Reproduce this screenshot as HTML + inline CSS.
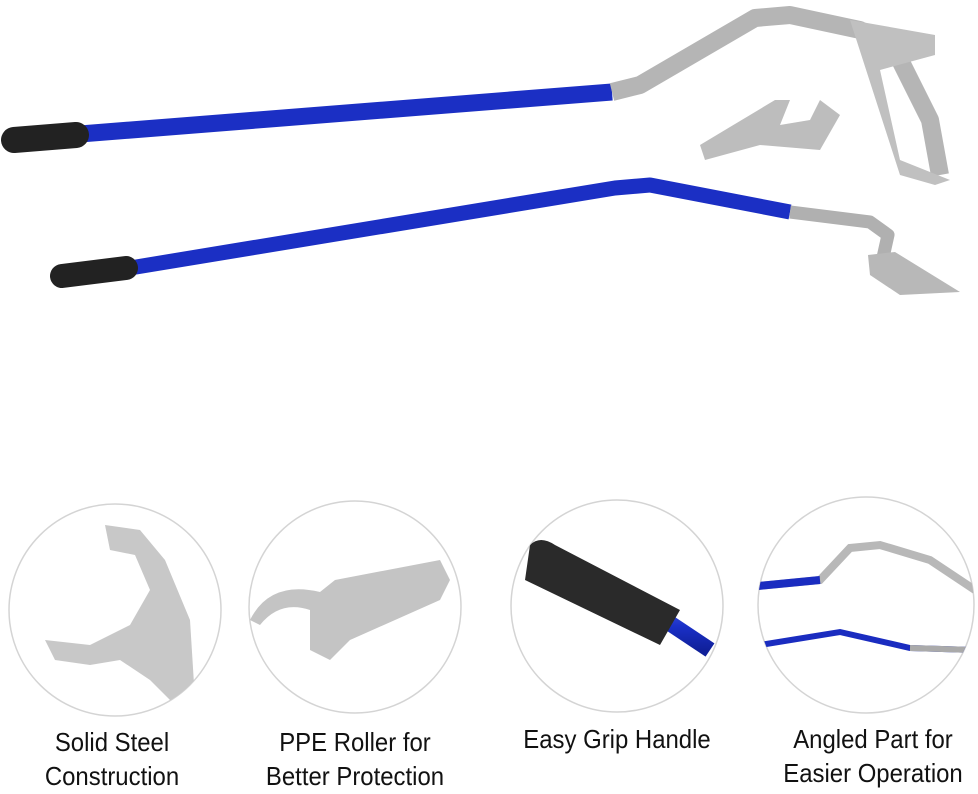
<!DOCTYPE html>
<html><head><style>
body{margin:0;width:978px;height:794px;background:#fff;overflow:hidden;position:relative;font-family:"Liberation Sans",sans-serif}
.t{position:absolute;text-align:center;font-size:26px;color:#111;line-height:34px;transform:scaleX(0.92)}
</style></head><body>
<svg width="978" height="794" style="position:absolute;left:0;top:0">
<defs>
<linearGradient id="b" x1="0" y1="0" x2="0" y2="1"><stop offset="0" stop-color="#3a4fd8"/><stop offset=".4" stop-color="#1a30c8"/><stop offset="1" stop-color="#10209a"/></linearGradient>
<clipPath id="c1"><circle cx="115" cy="610" r="106"/></clipPath>
<clipPath id="c2"><circle cx="355" cy="607" r="106"/></clipPath>
<clipPath id="c3"><circle cx="617" cy="606" r="106"/></clipPath>
<clipPath id="c4"><circle cx="866" cy="605" r="108"/></clipPath>
</defs>
<line x1="80" y1="134" x2="612" y2="92" stroke="#1b2fc4" stroke-width="17"/>
<line x1="14" y1="140" x2="76" y2="135" stroke="#222" stroke-width="26" stroke-linecap="round"/>
<polyline points="612,92 640,85 755,18 790,15 860,30 900,60 930,120 940,175" fill="none" stroke="#b5b5b5" stroke-width="18" stroke-linejoin="round"/>
<path d="M850,20 L935,35 L935,55 L880,70 L900,160 L950,180 L935,185 L900,175 Z" fill="#c0c0c0"/>
<path d="M700,145 L775,100 L790,100 L780,125 L810,120 L820,100 L840,115 L820,150 L760,145 L705,160 Z" fill="#bdbdbd"/>
<polyline points="130,268 615,188 650,185 790,212" fill="none" stroke="#1b2fc4" stroke-width="15" stroke-linejoin="round"/>
<line x1="62" y1="276" x2="126" y2="268" stroke="#222" stroke-width="24" stroke-linecap="round"/>
<polyline points="790,212 870,222 888,235 882,262" fill="none" stroke="#b0b0b0" stroke-width="13" stroke-linejoin="round"/>
<path d="M868,255 L895,252 L960,292 L900,295 L870,275 Z" fill="#b8b8b8"/>
<g fill="#fff" stroke="#d4d4d4" stroke-width="1.5">
<circle cx="115" cy="610" r="106"/><circle cx="355" cy="607" r="106"/><circle cx="617" cy="606" r="106"/><circle cx="866" cy="605" r="108"/>
</g>
<g clip-path="url(#c1)"><path d="M105,525 L140,530 L165,560 L190,620 L195,700 L170,700 L150,680 L120,660 L90,665 L55,660 L45,640 L90,645 L130,625 L150,590 L135,555 L110,550 Z" fill="#c8c8c8"/></g>
<g clip-path="url(#c2)"><path d="M250,620 Q270,580 320,592 L335,580 L440,560 L450,580 L440,600 L350,640 L330,660 L310,650 L310,610 Q280,600 260,625 Z" fill="#c4c4c4"/></g>
<g clip-path="url(#c3)"><line x1="650" y1="610" x2="710" y2="650" stroke="url(#b)" stroke-width="16"/><path d="M530,545 Q540,535 555,545 L680,610 L660,645 L525,580 Z" fill="#2a2a2a"/></g>
<g clip-path="url(#c4)"><polyline points="758,586 820,580 850,548 880,545 930,560 975,590" fill="none" stroke="#b8b8b8" stroke-width="8"/><line x1="758" y1="586" x2="820" y2="580" stroke="#1a2cc0" stroke-width="8"/><polyline points="760,645 840,632 910,648 975,650" fill="none" stroke="#1a2cc0" stroke-width="6"/><line x1="910" y1="648" x2="975" y2="650" stroke="#aaa" stroke-width="6"/></g>
</svg>
<div class="t" style="left:2px;top:725px;width:220px">Solid Steel<br>Construction</div>
<div class="t" style="left:235px;top:725px;width:240px">PPE Roller for<br>Better Protection</div>
<div class="t" style="left:497px;top:722px;width:240px">Easy Grip Handle</div>
<div class="t" style="left:758px;top:722px;width:230px">Angled Part for<br>Easier Operation</div>
</body></html>
